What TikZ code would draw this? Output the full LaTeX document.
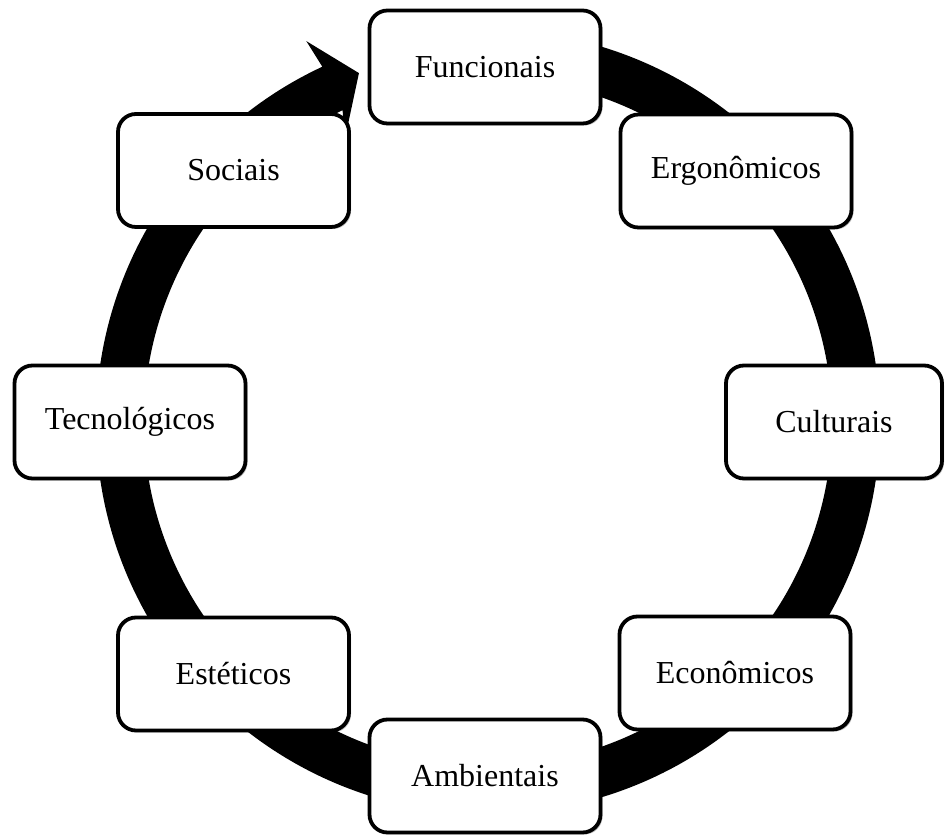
\documentclass[tikz,border=0pt]{standalone}
\usepackage{fontspec}
\setmainfont{Liberation Serif}
\usetikzlibrary{shadows}

\tikzset{
  stagebox/.style={
    draw=black, line width=3.8pt, fill=white, rounded corners=18pt,
    minimum width=231pt, minimum height=113pt, inner sep=0pt,
    font=\fontsize{32}{38}\selectfont,
    drop shadow={shadow xshift=2pt, shadow yshift=-2pt, opacity=0.25, fill=black}
  },
  ringfill/.style={fill=black}
}

\begin{document}
\begin{tikzpicture}[x=1pt, y=1pt]
  % canvas
  \fill[white] (0,0) rectangle (946,835);
  \useasboundingbox (0,0) rectangle (946,835);

  % circular arrow running clockwise behind the stages
  \begin{scope}[shift={(488,413)}]
    \coordinate (ringtip) at (110.3:372);
    \path[ringfill]
      (95:392) arc[start angle=95, end angle=-245, radius=392]
      -- (115.5:422) -- (ringtip) -- (117:316) -- (115:344)
      arc[start angle=-245, end angle=95, radius=344] -- cycle;
  \end{scope}

  % stages
  \node[stagebox] (func) at (485,768)   {Funcionais};
  \node[stagebox] (ergo) at (736,664)   {Ergonômicos};
  \node[stagebox, minimum width=216pt] (cult) at (834,413) {Culturais};
  \node[stagebox] (econ) at (735,162)   {Econômicos};
  \node[stagebox] (amb)  at (485,59)    {Ambientais};
  \node[stagebox] (este) at (233.5,161) {Estéticos};
  \node[stagebox] (tecn) at (130,413)   {Tecnológicos};
  \node[stagebox] (soc)  at (233.5,664.5) {Sociais};
\end{tikzpicture}
\end{document}
